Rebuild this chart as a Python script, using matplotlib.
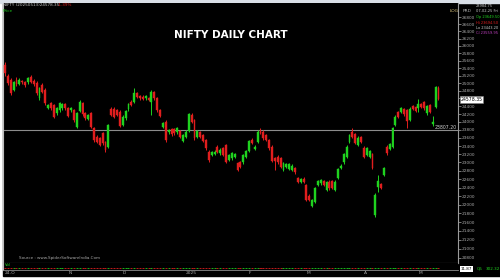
import matplotlib
matplotlib.use("Agg")
import matplotlib.pyplot as plt
from matplotlib.patches import Rectangle
from matplotlib.ticker import FixedLocator, NullLocator, FixedFormatter
import matplotlib.transforms as mtransforms

# daily candles, 3 Oct 2024 .. 13 May 2025
opens = [25480, 25195, 25082, 24820, 25080, 24990, 25060, 25020, 25020, 25170,
         25060, 25010, 24600, 24950, 24820, 24360, 24475, 24430, 24215, 24300,
         24345, 24450, 24360, 24300, 24300, 23880, 24280, 24475, 24215, 24075,
         24215, 23840, 23630, 23590, 23715, 23490, 23385, 24340, 24340, 24300,
         24260, 23925, 24090, 24325, 24520, 24520, 24735, 24675, 24650, 24600,
         24620, 24520, 24760, 24600, 24300, 23880, 24010, 23740, 23825, 23825,
         23740, 23775, 23525, 23630, 23775, 24175, 24050, 23630, 23740, 23675,
         23550, 23260, 23180, 23200, 23385, 23220, 23345, 23425, 23060, 23100,
         23140, 22980, 23000, 23000, 23140, 23280, 23550, 23330, 23510, 23800,
         23755, 23675, 23550, 23385, 23100, 23140, 23100, 22820, 22900, 22840,
         22820, 22870, 22630, 22540, 22610, 22460, 22210, 21980, 22070, 22460,
         22500, 22555, 22345, 22540, 22555, 22345, 22630, 22870, 23000, 23140,
         23510, 23755, 23690, 23425, 23630, 23360, 23180, 23140, 23200, 21765,
         22420, 22480, 22700, 23385, 23325, 23385, 23925, 24240, 24260, 24330,
         24300, 24050, 24410, 24385, 24360, 24450, 24500, 24215, 24430, 23940,
         24390, 24880]
highs = [25570, 25250, 25130, 25060, 25150, 25130, 25090, 25060, 25160, 25220,
         25100, 25050, 24900, 25000, 24860, 24470, 24510, 24460, 24380, 24520,
         24480, 24490, 24390, 24370, 24330, 24250, 24560, 24520, 24250, 24210,
         24250, 23880, 23680, 23620, 23760, 23530, 23960, 24380, 24380, 24330,
         24300, 24170, 24310, 24480, 24550, 24860, 24770, 24700, 24680, 24690,
         24650, 24810, 24800, 24630, 24330, 24000, 24050, 23830, 23860, 23860,
         23870, 23800, 23710, 23790, 24230, 24220, 24080, 23810, 23770, 23700,
         23580, 23300, 23280, 23290, 23420, 23340, 23380, 23460, 23210, 23250,
         23230, 23010, 23030, 23210, 23310, 23560, 23590, 23420, 23790, 23840,
         23790, 23700, 23580, 23420, 23130, 23170, 23130, 23010, 22990, 22990,
         22950, 22900, 22660, 22630, 22640, 22490, 22240, 22140, 22410, 22590,
         22610, 22590, 22560, 22570, 22590, 22570, 22870, 22950, 23230, 23420,
         23710, 23860, 23720, 23640, 23660, 23390, 23380, 23310, 23230, 22260,
         22700, 22510, 22890, 23420, 23470, 23880, 24170, 24270, 24390, 24360,
         24330, 24370, 24440, 24410, 24585, 24480, 24530, 24440, 24460, 24160,
         24920, 24920]
lows = [25200, 24950, 24690, 24790, 24930, 24960, 24990, 24900, 24990, 25000,
        24920, 24690, 24560, 24740, 24430, 24320, 24300, 24090, 24180, 24260,
        24300, 24310, 24120, 24260, 24000, 23850, 24250, 24150, 24050, 24040,
        23850, 23510, 23470, 23400, 23430, 23260, 23350, 24140, 24100, 24140,
        23870, 23890, 24060, 24290, 24400, 24490, 24620, 24570, 24560, 24570,
        24530, 24180, 24570, 24260, 24120, 23840, 23500, 23700, 23650, 23680,
        23710, 23600, 23490, 23600, 23740, 23980, 23550, 23600, 23600, 23490,
        23310, 23020, 23150, 23170, 23230, 23190, 23150, 22990, 23030, 23070,
        23110, 22790, 22870, 22970, 23110, 23250, 23440, 23300, 23480, 23690,
        23560, 23520, 23310, 23000, 22820, 22970, 22870, 22790, 22870, 22810,
        22790, 22730, 22510, 22510, 22510, 22080, 22080, 21950, 22040, 22430,
        22470, 22430, 22310, 22350, 22370, 22310, 22600, 22840, 22970, 23110,
        23480, 23600, 23440, 23390, 23480, 23110, 23150, 23110, 22840, 21725,
        22305, 22370, 22670, 23190, 23300, 23350, 23900, 24100, 24230, 24160,
        23860, 24020, 24300, 24250, 24260, 24360, 24310, 24180, 24230, 23910,
        24360, 24560]
closes = [25260, 24995, 24735, 25020, 24970, 25080, 25020, 24950, 25125, 25040,
          24970, 24735, 24860, 24780, 24475, 24430, 24345, 24135, 24345, 24475,
          24450, 24345, 24160, 24345, 24050, 24215, 24500, 24190, 24090, 24175,
          23880, 23550, 23510, 23430, 23470, 23305, 23925, 24175, 24135, 24175,
          23900, 24135, 24280, 24450, 24430, 24735, 24650, 24600, 24590, 24660,
          24560, 24775, 24600, 24300, 24160, 23965, 23550, 23800, 23690, 23715,
          23840, 23630, 23675, 23755, 24190, 24010, 23590, 23775, 23630, 23525,
          23345, 23060, 23245, 23260, 23260, 23305, 23180, 23020, 23180, 23220,
          23200, 22820, 22900, 23180, 23280, 23525, 23470, 23385, 23755, 23715,
          23590, 23550, 23345, 23035, 23035, 23000, 22900, 22980, 22955, 22955,
          22920, 22760, 22540, 22600, 22540, 22110, 22110, 22110, 22380, 22555,
          22580, 22460, 22525, 22385, 22400, 22540, 22840, 22920, 23200, 23385,
          23675, 23630, 23470, 23605, 23510, 23140, 23345, 23280, 22870, 22230,
          22555, 22400, 22860, 23220, 23440, 23860, 24135, 24135, 24360, 24190,
          24025, 24340, 24330, 24280, 24450, 24390, 24345, 24410, 24260, 24010,
          24900, 24578.35]

price_ticks = list(range(20800, 26801, 200))
date_pos = [0, 22, 41, 63, 85, 105, 125, 144]
date_labels = ["24-O", "N", "D", "2025", "F", "M", "A", "M"]
hline_value = 23807.20
last_price = 24578.35

UP = "#1fd21f"
DOWN = "#e01e1e"
GREY = "#a8a8a8"

W, H = 500, 280


def fx(x):
    return x / W


def fy(y):
    return 1 - y / H


fig = plt.figure(figsize=(5, 2.8), dpi=100, facecolor="white")

# black chart window and light strip on top
fig.patches.append(Rectangle((fx(3), fy(276)), fx(497), 273 / H,
                             transform=fig.transFigure, color="black", zorder=-5))
fig.patches.append(Rectangle((0, fy(3)), 1, 3 / H,
                             transform=fig.transFigure, color="#d9dfe7", zorder=-5))

ax = fig.add_axes([fx(3), fy(263), fx(455), 260 / H])
ax.set_zorder(1)
ax.set_facecolor("black")
ax.set_yscale("log")
ax.set_ylim(20690, 27200)
n = len(closes)
ax.set_xlim(-0.7, 157.8)

for i in range(n):
    o, h, l, c = opens[i], highs[i], lows[i], closes[i]
    col = UP if c >= o else DOWN
    ax.vlines(i, l, h, color=col, lw=0.7, zorder=3)
    ax.add_patch(Rectangle((i - 0.33, min(o, c)), 0.66, max(abs(c - o), 8),
                           facecolor=col, edgecolor=col, lw=0.3, zorder=4))

ax.axhline(hline_value, color="#8c8c8c", lw=0.8, zorder=2)
ax.text(157.3, hline_value, "%.2f" % hline_value, color="#d0d0d0", fontsize=3.3,
        ha="right", va="bottom")

# the last-price box hides the 24600 label, as in the original
tick_text = ["" if abs(p - last_price) < 100 else str(p) for p in price_ticks]
ax.yaxis.tick_right()
ax.yaxis.set_major_locator(FixedLocator(price_ticks))
ax.yaxis.set_major_formatter(FixedFormatter(tick_text))
ax.yaxis.set_minor_locator(NullLocator())
ax.tick_params(axis="y", colors=GREY, labelsize=3.1, length=2, width=0.5, pad=1)
ax.set_xticks([])
ax.spines["top"].set_visible(False)
ax.spines["right"].set_color("#9a9a9a")
ax.spines["left"].set_color("#bdbdbd")
ax.spines["bottom"].set_color("#8c8c8c")
for s in ax.spines.values():
    s.set_linewidth(0.8)

# last price box on the price scale
trans = mtransforms.blended_transform_factory(ax.transAxes, ax.transData)
ax.text(1.006, last_price, "%.2f" % last_price, transform=trans, fontsize=3.3,
        color="black", va="center", ha="left", zorder=10,
        bbox=dict(boxstyle="square,pad=0.15", fc="white", ec="#808080", lw=0.4))

ax.text(0.5, 1 - 32 / 260, "NIFTY DAILY CHART", transform=ax.transAxes,
        color="white", fontsize=7.5, fontweight="bold", ha="center", va="center")
ax.text(16 / 455, 3 / 260, "Source : www.SpiderSoftwareIndia.Com",
        transform=ax.transAxes, color=GREY, fontsize=3, ha="left", va="bottom")

# volume strip
vax = fig.add_axes([fx(3), fy(270), fx(455), 7 / H])
vax.set_zorder(1)
vax.set_facecolor("black")
vax.set_xlim(ax.get_xlim())
vax.set_ylim(0, 1)
for i in range(n):
    col = UP if closes[i] >= opens[i] else DOWN
    vax.hlines(0.35, i - 0.35, i + 0.35, color=col, lw=0.6)
vax.set_xticks([])
vax.set_yticks([])
for s in vax.spines.values():
    s.set_visible(False)
vax.spines["bottom"].set_visible(True)
vax.spines["bottom"].set_color("#8c8c8c")
vax.spines["bottom"].set_linewidth(0.6)
vax.spines["left"].set_visible(True)
vax.spines["left"].set_color("#bdbdbd")
vax.text(0.005, 0.95, "Vol", transform=vax.transAxes, color=UP, fontsize=2.8,
         ha="left", va="top")

# date labels
dtrans = mtransforms.blended_transform_factory(ax.transData, fig.transFigure)
for p, lab in zip(date_pos, date_labels):
    fig.text(p, fy(273), lab, transform=dtrans, color=GREY, fontsize=3.2,
             ha="left", va="center", zorder=5)

# header texts
fig.text(fx(3), fy(5), "NIFTY (20250513)24578.35", color="#c8c8c8",
         fontsize=3.0, ha="left", va="center", zorder=5)
fig.text(fx(58), fy(5), "-1.39%", color=DOWN, fontsize=3.0, ha="left", va="center",
         zorder=5)
fig.text(fx(3), fy(11), "Price", color=UP, fontsize=3.0, ha="left", va="center",
         zorder=5)

fig.text(fx(454), fy(11), "LOG", color="#d8c27a", fontsize=3.2, ha="center",
         va="center", zorder=5)
fig.text(fx(467), fy(11), "PRD", color=GREY, fontsize=3.2, ha="center",
         va="center", zorder=5)

info = [("23984.75", "#c8c8c8"), ("07-02-25 Fri", "#c8c8c8"),
        ("Op 23649.50", UP), ("Hi 23694.50", DOWN),
        ("Lo 23443.20", "#c8c8c8"), ("Cl 23559.95", "#c040c0")]
for k, (t, c) in enumerate(info):
    fig.text(fx(476), fy(6 + k * 5.5), t, color=c, fontsize=2.6, ha="left",
             va="center", zorder=5)

fig.text(fx(461), fy(269), "11.87", color="black", fontsize=3, ha="left", va="center",
         zorder=5, bbox=dict(boxstyle="square,pad=0.15", fc="white", ec="none"))
fig.text(fx(477), fy(269), "Q5", color=UP, fontsize=3, ha="left", va="center", zorder=5)
fig.text(fx(486), fy(269), "302.32", color=UP, fontsize=3, ha="left", va="center",
         zorder=5)

fig.savefig("out.png", dpi=100, facecolor="white")
